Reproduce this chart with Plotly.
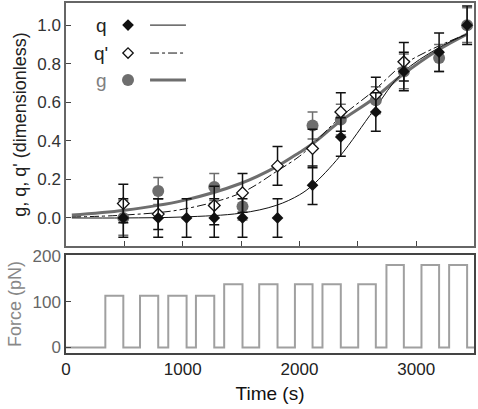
import plotly.graph_objects as go

# ---------------- data ----------------
t_q = [491, 790, 1033, 1270, 1512, 1812, 2112, 2354, 2654, 2894, 3196, 3436]
q_vals = [0.0, 0.0, 0.0, 0.0, 0.0, 0.0, 0.17, 0.42, 0.55, 0.76, 0.86, 1.0]
q_err = [0.1, 0.1, 0.1, 0.1, 0.1, 0.1, 0.1, 0.1, 0.1, 0.1, 0.1, 0.1]

t_qp = [491, 790, 1270, 1512, 1812, 2112, 2354, 2654, 2894]
qp_vals = [0.075, 0.02, 0.065, 0.13, 0.27, 0.36, 0.55, 0.64, 0.81]
qp_err = [0.1, 0.08, 0.1, 0.1, 0.1, 0.1, 0.1, 0.09, 0.1]

t_g = [491, 790, 1270, 1512, 2112, 2354, 2654, 2894, 3196, 3436]
g_vals = [0.0, 0.14, 0.16, 0.06, 0.48, 0.51, 0.61, 0.76, 0.83, 1.0]
g_err = [0.09, 0.07, 0.07, 0.07, 0.07, 0.08, 0.07, 0.09, 0.07, 0.09]

fit_t = [50, 500, 1000, 1500, 1800, 2000, 2112, 2346, 2637, 2877, 3185, 3440]
q_fit = [0.0, 0.0, 0.005, 0.025, 0.065, 0.12, 0.17, 0.32, 0.56, 0.75, 0.88, 0.955]
qp_fit = [0.005, 0.015, 0.045, 0.13, 0.24, 0.32, 0.38, 0.52, 0.66, 0.79, 0.89, 0.955]
g_fit = [0.015, 0.04, 0.09, 0.18, 0.265, 0.34, 0.385, 0.5, 0.62, 0.74, 0.87, 0.955]

force_t = [0, 337, 491, 634, 790, 876, 1033, 1113, 1270, 1355, 1512, 1655, 1812,
           1961, 2112, 2197, 2354, 2503, 2654, 2745, 2894, 3045, 3196, 3282, 3436, 3495]
force_v = [0, 113, 0, 113, 0, 113, 0, 113, 0, 138, 0, 138, 0,
           138, 0, 138, 0, 138, 0, 180, 0, 180, 0, 180, 0, 0]

x_ticks = [0, 500, 1000, 1500, 2000, 2500, 3000, 3500]
x_ticklabels = ["0", "", "1000", "", "2000", "", "3000", ""]
top_yticks = [0.0, 0.2, 0.4, 0.6, 0.8, 1.0]
bot_yticks = [0, 100, 200]

legend_names = ["q", "q'", "g"]

# ---------------- styles ----------------
FONT = "Liberation Sans, Arial, sans-serif"
GREY = "#6e6e6e"
BLACK = "#111111"

fig = go.Figure()

# fitted curves
fig.add_trace(go.Scatter(x=fit_t, y=g_fit, mode="lines", line=dict(color=GREY, width=3, shape="spline"),
                         xaxis="x", yaxis="y", showlegend=False))
fig.add_trace(go.Scatter(x=fit_t, y=qp_fit, mode="lines", line=dict(color=BLACK, width=1, dash="dashdot", shape="spline"),
                         xaxis="x", yaxis="y", showlegend=False))
fig.add_trace(go.Scatter(x=fit_t, y=q_fit, mode="lines", line=dict(color=BLACK, width=1, shape="spline"),
                         xaxis="x", yaxis="y", showlegend=False))

# data points
fig.add_trace(go.Scatter(x=t_g, y=g_vals, mode="markers", cliponaxis=False,
                         marker=dict(symbol="circle", size=12, color=GREY),
                         error_y=dict(type="data", array=g_err, color=GREY, thickness=1.5, width=5),
                         xaxis="x", yaxis="y", showlegend=False))
fig.add_trace(go.Scatter(x=t_qp, y=qp_vals, mode="markers", cliponaxis=False,
                         marker=dict(symbol="diamond", size=9, color="white", line=dict(color=BLACK, width=1.3)),
                         error_y=dict(type="data", array=qp_err, color=BLACK, thickness=1.5, width=5),
                         xaxis="x", yaxis="y", showlegend=False))
fig.add_trace(go.Scatter(x=t_q, y=q_vals, mode="markers", cliponaxis=False,
                         marker=dict(symbol="diamond", size=9, color=BLACK),
                         error_y=dict(type="data", array=q_err, color=BLACK, thickness=1.5, width=5),
                         xaxis="x", yaxis="y", showlegend=False))

# force
fig.add_trace(go.Scatter(x=force_t, y=force_v, mode="lines", line=dict(color="#a0a0a0", width=2, shape="hv"),
                         xaxis="x2", yaxis="y2", showlegend=False))

# custom legend on an overlay axis (0..1)
leg_y = [0.909, 0.794, 0.683]
leg_marker = [dict(symbol="diamond", size=9, color=BLACK),
              dict(symbol="diamond", size=8, color="white", line=dict(color=BLACK, width=1.3)),
              dict(symbol="circle", size=12, color=GREY)]
leg_line = [dict(color=BLACK, width=1), dict(color=BLACK, width=1, dash="dashdot"), dict(color=GREY, width=3)]
leg_txtcol = ["#222222", "#222222", "#808080"]
for i in range(3):
    fig.add_trace(go.Scatter(x=[0.152], y=[leg_y[i]], mode="markers", marker=leg_marker[i],
                             xaxis="x3", yaxis="y3", showlegend=False))
    fig.add_trace(go.Scatter(x=[0.206, 0.294], y=[leg_y[i], leg_y[i]], mode="lines", line=leg_line[i],
                             xaxis="x3", yaxis="y3", showlegend=False))
    fig.add_annotation(x=0.086, y=leg_y[i], xref="x3", yref="y3", text=legend_names[i], showarrow=False,
                       font=dict(family=FONT, size=19, color=leg_txtcol[i]), xanchor="center", yanchor="middle")

TOP_DOM = [0.306, 1.0]
BOT_DOM = [0.0, 0.28]

fig.update_layout(
    width=478, height=409,
    margin=dict(l=66, r=4, t=3, b=56, autoexpand=False),
    paper_bgcolor="white", plot_bgcolor="white",
    font=dict(family=FONT, size=17, color="#333333"),
    xaxis=dict(domain=[0, 1], anchor="y", range=[0, 3495], tickvals=x_ticks, ticktext=[""] * len(x_ticks),
               ticks="inside", ticklen=5, tickcolor="#444", showline=True, mirror=True, automargin=False,
               linecolor="#666", linewidth=1.5, showgrid=False, zeroline=False),
    yaxis=dict(domain=TOP_DOM, anchor="x", range=[-0.145, 1.115], tickvals=top_yticks, automargin=False,
               tickformat=".1f", ticks="inside", ticklen=5, tickcolor="#444", showline=True, mirror=True,
               linecolor="#666", linewidth=1.5, showgrid=False, zeroline=False,
               tickfont=dict(size=17, color="#333333"),
               title=dict(text="g, q, q' (dimensionless)", font=dict(size=18, color="#222222"), standoff=6)),
    xaxis2=dict(domain=[0, 1], anchor="y2", range=[0, 3495], tickvals=x_ticks, ticktext=x_ticklabels,
                ticks="", showline=True, mirror=True, linecolor="#444", linewidth=1.5, automargin=False,
                showgrid=False, zeroline=False, tickfont=dict(size=17, color="#222222"),
                title=dict(text="Time (s)", font=dict(size=19, color="#111111"), standoff=9)),
    yaxis2=dict(domain=BOT_DOM, anchor="x2", range=[-12, 202], tickvals=bot_yticks, automargin=False,
                ticks="inside", ticklen=5, tickcolor="#444", showline=True, mirror=True,
                linecolor="#444", linewidth=1.5, showgrid=False, zeroline=False,
                tickfont=dict(size=17, color="#666666"),
                title=dict(text="Force (pN)", font=dict(size=18, color="#888888"), standoff=6)),
    xaxis3=dict(domain=[0, 1], anchor="y3", range=[0, 1], visible=False, overlaying="x"),
    yaxis3=dict(domain=TOP_DOM, anchor="x3", range=[0, 1], visible=False, overlaying="y"),
)

fig.write_html("out.html", config={"displayModeBar": False},
               post_script="document.body.style.margin='0';document.body.style.overflow='hidden';")
